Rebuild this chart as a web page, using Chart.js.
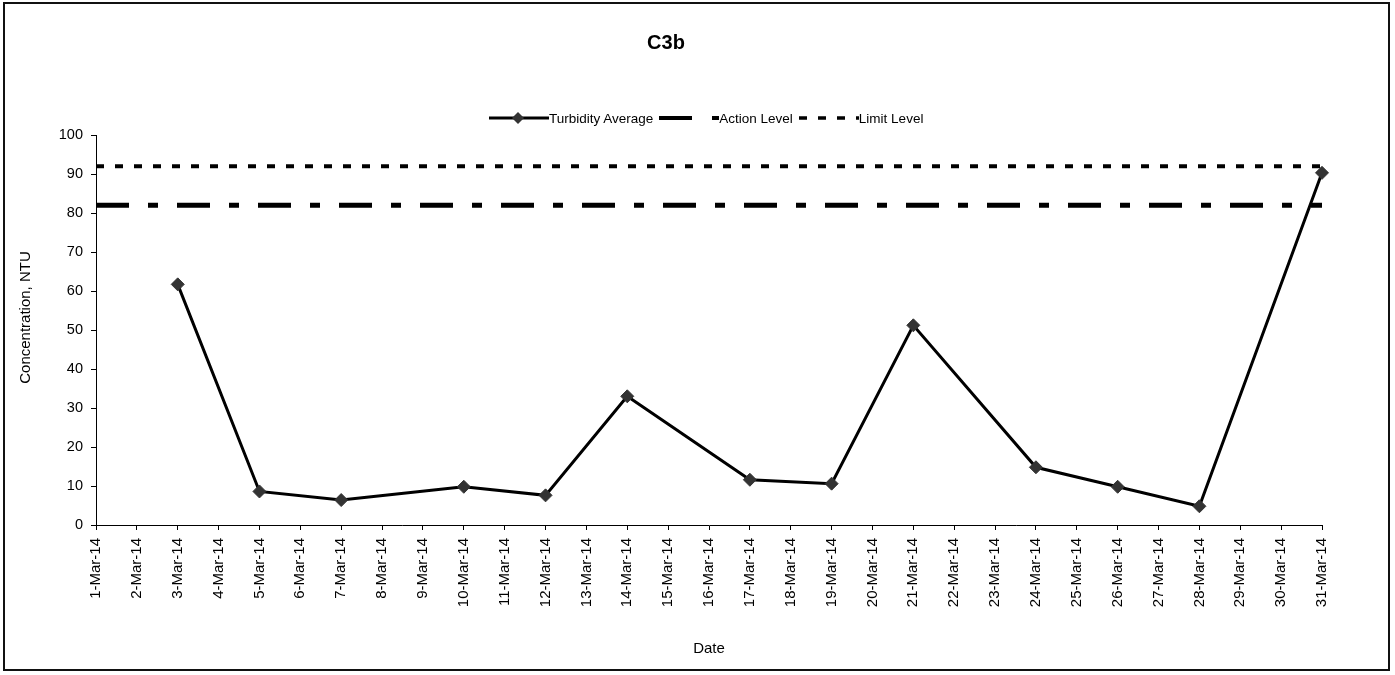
<!DOCTYPE html>
<html>
<head>
<meta charset="utf-8">
<script src="https://cdn.jsdelivr.net/npm/chart.js@4/dist/chart.umd.min.js"></script>
<style>
    body { margin: 0; background: #fff; font-family: 'Liberation Sans', Arial, sans-serif; }
    #wrap { position: relative; width: 1395px; height: 675px; }
    #frame { position: absolute; left: 3px; top: 2px; width: 1383px; height: 665px; border: 2px solid #111; }
    #chart { position: absolute; left: 0; top: 0; }
    #legend { position: absolute; left: 489px; top: 110px; display: flex; align-items: center; font-size: 13.5px; color: #000; white-space: nowrap; }
    #legend .item { display: flex; align-items: center; margin-right: 6px; }
    #legend svg { display: block; }
</style>
</head>
<body>
<div id="wrap">
    <div id="frame"></div>
    <canvas id="chart" width="1395" height="675"></canvas>
    <div id="legend">
        <div class="item">
            <svg width="60" height="16"><line x1="0" y1="8" x2="60" y2="8" stroke="#000" stroke-width="3"/><polygon points="29,2 35,8 29,14 23,8" fill="#333"/></svg>
            <span>Turbidity Average</span>
        </div>
        <div class="item">
            <svg width="60" height="16"><line x1="0" y1="8" x2="60" y2="8" stroke="#000" stroke-width="4" stroke-dasharray="33 20 10 20"/></svg>
            <span>Action Level</span>
        </div>
        <div class="item">
            <svg width="60" height="16"><line x1="0" y1="8" x2="60" y2="8" stroke="#000" stroke-width="3.5" stroke-dasharray="8 11"/></svg>
            <span>Limit Level</span>
        </div>
    </div>
</div>
<script>
// Tick labels (one per day)
const dateLabels = [
    '1-Mar-14', '2-Mar-14', '3-Mar-14', '4-Mar-14', '5-Mar-14', '6-Mar-14', '7-Mar-14',
    '8-Mar-14', '9-Mar-14', '10-Mar-14', '11-Mar-14', '12-Mar-14', '13-Mar-14', '14-Mar-14',
    '15-Mar-14', '16-Mar-14', '17-Mar-14', '18-Mar-14', '19-Mar-14', '20-Mar-14', '21-Mar-14',
    '22-Mar-14', '23-Mar-14', '24-Mar-14', '25-Mar-14', '26-Mar-14', '27-Mar-14', '28-Mar-14',
    '29-Mar-14', '30-Mar-14', '31-Mar-14'
];

// Turbidity readings (null = no sample that day)
const turbidity = [
    null, null, 61.7, null, 8.6, null, 6.4,
    null, null, 9.8, null, 7.6, null, 33.0,
    null, null, 11.6, null, 10.6, null, 51.2,
    null, null, 14.8, null, 9.8, null, 4.8,
    null, null, 90.3
];

const actionLevel = 82;
const limitLevel = 92;

const yTicks = [0, 10, 20, 30, 40, 50, 60, 70, 80, 90, 100];

const FONT = "'Liberation Sans', Arial, sans-serif";

const levelLine = (value) => [
    { x: dateLabels[0], y: value },
    { x: dateLabels[dateLabels.length - 1], y: value }
];

new Chart(document.getElementById('chart').getContext('2d'), {
    type: 'line',
    data: {
        labels: dateLabels,
        datasets: [
            {
                label: 'Turbidity Average',
                data: turbidity,
                borderColor: '#000',
                borderWidth: 3,
                pointStyle: 'rectRot',
                pointRadius: 6.5,
                pointBackgroundColor: '#333',
                pointBorderColor: '#333',
                pointBorderWidth: 1,
                spanGaps: true,
                tension: 0
            },
            {
                label: 'Action Level',
                data: levelLine(actionLevel),
                borderColor: '#000',
                borderWidth: 5,
                borderDash: [33, 19, 10, 19],
                pointRadius: 0
            },
            {
                label: 'Limit Level',
                data: levelLine(limitLevel),
                borderColor: '#000',
                borderWidth: 4,
                borderDash: [8, 11],
                pointRadius: 0
            }
        ]
    },
    options: {
        responsive: false,
        animation: false,
        layout: { padding: { left: 10, right: 73, top: 0, bottom: 10 } },
        plugins: {
            legend: { display: false },
            tooltip: { enabled: false },
            title: {
                display: true,
                text: 'C3b',
                color: '#000',
                font: { family: FONT, size: 20, weight: 'bold' },
                padding: { top: 31, bottom: 80 }
            }
        },
        scales: {
            x: {
                type: 'category',
                offset: false,
                border: { display: true, color: '#000', width: 1 },
                grid: { display: true, drawOnChartArea: false, drawTicks: true, tickLength: 5, color: '#000' },
                ticks: {
                    autoSkip: false,
                    minRotation: 90,
                    maxRotation: 90,
                    padding: 8,
                    color: '#000',
                    font: { family: FONT, size: 15 }
                },
                title: {
                    display: true,
                    text: 'Date',
                    color: '#000',
                    font: { family: FONT, size: 15 },
                    padding: { top: 0, bottom: 7 }
                },
                afterFit: (scale) => { scale.height = 140; }
            },
            y: {
                min: 0,
                max: 100,
                afterBuildTicks: (scale) => { scale.ticks = yTicks.map(v => ({ value: v })); },
                border: { display: true, color: '#000', width: 1 },
                grid: { display: true, drawOnChartArea: false, drawTicks: true, tickLength: 5, color: '#000' },
                ticks: {
                    padding: 8,
                    color: '#000',
                    font: { family: FONT, size: 14.5 }
                },
                title: {
                    display: true,
                    // leading spaces nudge the rotated title up a bit, like the original
                    text: '      Concentration, NTU',
                    color: '#000',
                    font: { family: FONT, size: 15 },
                    padding: { top: 7, bottom: 0 }
                },
                afterFit: (scale) => { scale.width = 86; }
            }
        }
    }
});
</script>
</body>
</html>
